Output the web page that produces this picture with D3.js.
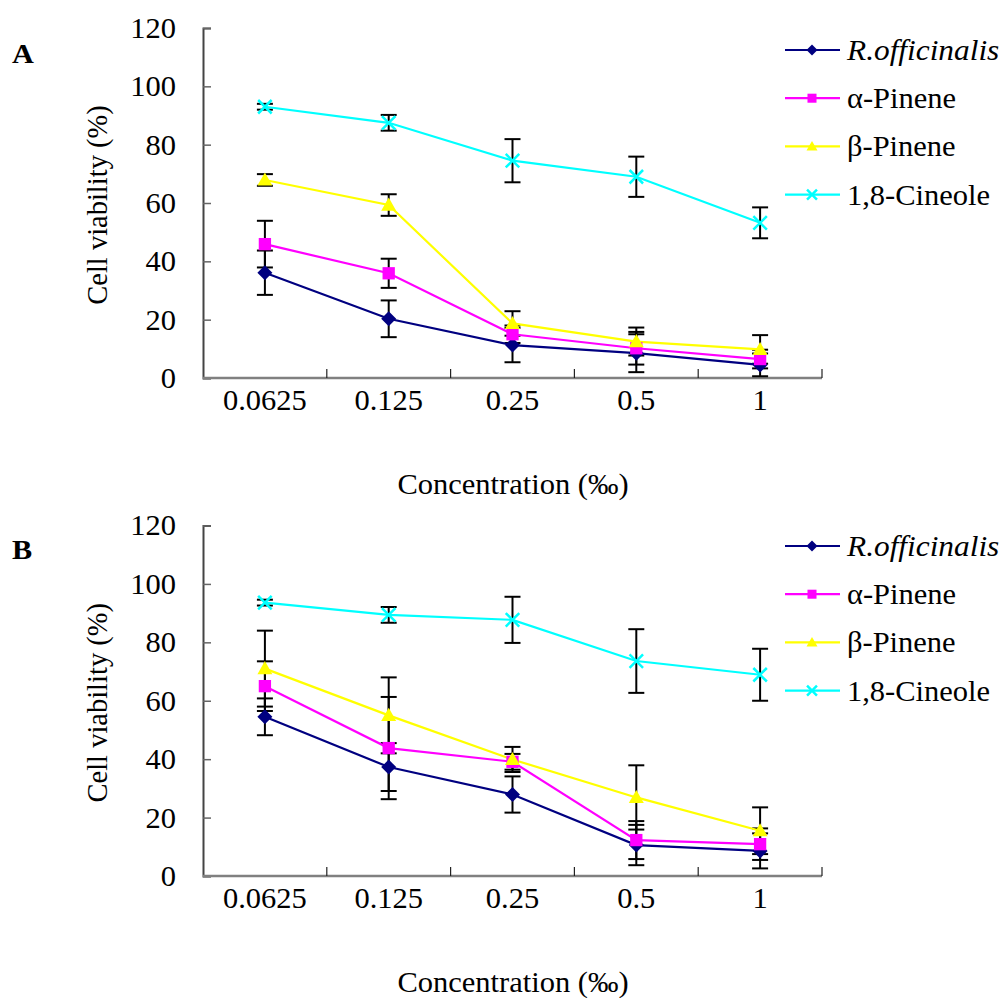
<!DOCTYPE html>
<html><head><meta charset="utf-8">
<script src="https://cdn.jsdelivr.net/npm/d3@7"></script>
<style>body{margin:0;background:#fff}svg{display:block}svg text{font-family:'Liberation Serif','Times New Roman','DejaVu Serif',serif;fill:#000}</style>
</head><body>
<svg id="c" width="1002" height="998"></svg>
<script>
const categories = ["0.0625","0.125","0.25","0.5","1"];
const seriesNames = ["R.officinalis","α-Pinene","β-Pinene","1,8-Cineole"];
const yTicks = [0,20,40,60,80,100,120];

const rofA = [36.1, 20.3, 11.3, 8.5, 4.5];
const rofAErr = [7.6, 6.3, 5.9, 6.5, 3.9];
const alphaA = [45.9, 35.9, 15.0, 10.2, 6.5];
const alphaAErr = [8, 5, 3, 5.6, 3.2];
const betaA = [67.9, 59.3, 18.7, 12.5, 9.8];
const betaAErr = [2, 3.7, 4.2, 4.8, 4.9];
const cinA = [93.0, 87.5, 74.5, 69.0, 53.2];
const cinAErr = [1, 2.7, 7.4, 6.9, 5.3];

const rofB = [54.5, 37.3, 27.9, 10.6, 8.6];
const rofBErr = [6.3, 8.2, 6.2, 6.9, 6];
const alphaB = [65.0, 43.8, 39.1, 12.3, 10.9];
const alphaBErr = [8.5, 17.5, 2.7, 6.5, 5.4];
const betaB = [71.0, 55.0, 39.9, 26.9, 15.5];
const betaBErr = [13, 13, 4.3, 11, 8];
const cinB = [93.6, 89.4, 87.7, 73.6, 68.9];
const cinBErr = [1, 2.7, 7.9, 10.9, 8.9];

const colors = ["#000080","#FF00FF","#FFFF00","#00FFFF"];
const markers = ["diamond","square","triangle","x"];
const FS = 28.5, SX = 1.07;

const svg = d3.select("#c");

function txt(g, x, y, size, sx) {
  return g.append("text").attr("transform", `translate(${x},${y}) scale(${sx || SX},1)`).attr("font-size", size);
}

function marker(g, type, x, y, color, s) {
  if (type === "diamond") {
    g.append("path").attr("d", `M${x},${y-s}L${x+s},${y}L${x},${y+s}L${x-s},${y}Z`).attr("fill", color);
  } else if (type === "square") {
    const h = s*0.82;
    g.append("rect").attr("x", x-h).attr("y", y-h).attr("width", 2*h).attr("height", 2*h).attr("fill", color);
  } else if (type === "triangle") {
    g.append("path").attr("d", `M${x},${y-s}L${x+s},${y+s*0.75}L${x-s},${y+s*0.75}Z`).attr("fill", color);
  } else {
    const h = s*0.9;
    g.append("path").attr("d", `M${x-h},${y-h}L${x+h},${y+h}M${x-h},${y+h}L${x+h},${y-h}`).attr("stroke", color).attr("stroke-width", 2.5).attr("fill","none");
  }
}

function panel(label, top, y0, y120, data, errs) {
  const g = svg.append("g");
  const x = d3.scaleBand().domain(categories).range([203, 822]).padding(0);
  const y = d3.scaleLinear().domain([0, 120]).range([y0, y120]);
  const cx = c => x(c) + x.bandwidth()/2;

  txt(g, 12, top, 27, 1.12).attr("font-weight", "bold").text(label);

  const ya = g.append("g").attr("transform", `translate(203,0)`)
    .call(d3.axisRight(y).tickValues(yTicks).tickSize(8).tickFormat(""));
  ya.select(".domain").attr("stroke", "#444").attr("stroke-width", 2);
  ya.selectAll(".tick line").attr("stroke", "#666").attr("stroke-width", 1.5);
  yTicks.forEach(v => {
    txt(g, 176, y(v), FS).attr("dy", "0.35em").attr("text-anchor", "end").text(v);
  });
  g.append("text").attr("transform", `translate(107,${(y0+y120)/2 + 2}) rotate(-90)`).attr("text-anchor", "middle").attr("font-size", FS).text("Cell viability (%)");

  const bounds = categories.map(c => x(c)).slice(1).concat([822]);
  g.append("line").attr("x1", 203).attr("x2", 822).attr("y1", y0).attr("y2", y0).attr("stroke", "#808080").attr("stroke-width", 2.5);
  bounds.forEach(b => g.append("line").attr("x1", b).attr("x2", b).attr("y1", y0).attr("y2", y0-9).attr("stroke", "#222").attr("stroke-width", 1.2));
  categories.forEach(c => {
    txt(g, cx(c), y0 + 32, FS).attr("text-anchor", "middle").text(c);
  });
  txt(g, 513, y0 + 116, FS).attr("text-anchor", "middle").text("Concentration (‰)");

  data.forEach((vals, si) => {
    vals.forEach((v, i) => {
      const xx = cx(categories[i]);
      const e = errs[si][i];
      const yt = y(v + e), yb = y(v - e);
      g.append("line").attr("x1", xx).attr("x2", xx).attr("y1", yt).attr("y2", yb).attr("stroke", "#000").attr("stroke-width", 2);
      [yt, yb].forEach(yy => g.append("line").attr("x1", xx-8).attr("x2", xx+8).attr("y1", yy).attr("y2", yy).attr("stroke", "#000").attr("stroke-width", 2));
    });
  });
  const line = d3.line().x((d, i) => cx(categories[i])).y(d => y(d));
  data.forEach((vals, si) => {
    g.append("path").attr("d", line(vals)).attr("fill", "none").attr("stroke", colors[si]).attr("stroke-width", 2.2);
  });
  data.forEach((vals, si) => {
    vals.forEach((v, i) => marker(g, markers[si], cx(categories[i]), y(v), colors[si], 7.5));
  });

  const ly0 = top - 13, ldy = 48.2;
  seriesNames.forEach((n, si) => {
    const ly = ly0 + si*ldy;
    g.append("line").attr("x1", 785).attr("x2", 840).attr("y1", ly).attr("y2", ly).attr("stroke", colors[si]).attr("stroke-width", 2.2);
    marker(g, markers[si], 812, ly, colors[si], 5.5);
    txt(g, 847, ly, FS, si === 0 ? 1.1 : SX).attr("dy", "0.35em")
      .attr("font-style", si === 0 ? "italic" : "normal").text(n);
  });
}

panel("A", 63, 378, 28, [rofA, alphaA, betaA, cinA], [rofAErr, alphaAErr, betaAErr, cinAErr]);
panel("B", 559, 876, 525.5, [rofB, alphaB, betaB, cinB], [rofBErr, alphaBErr, betaBErr, cinBErr]);
</script>
</body></html>
